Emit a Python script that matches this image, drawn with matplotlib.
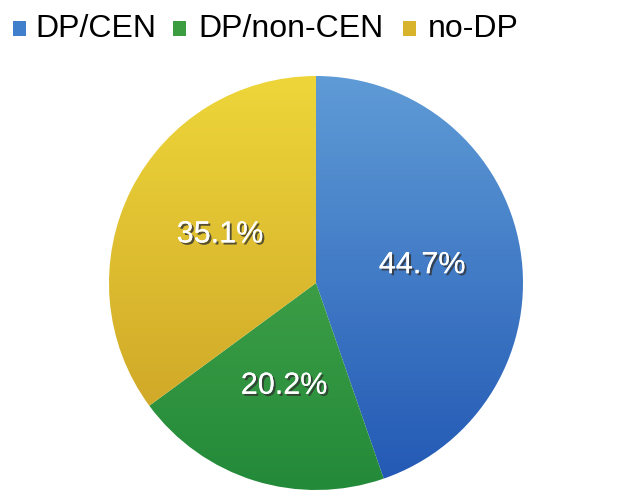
import numpy as np
import matplotlib
matplotlib.use("Agg")
import matplotlib.pyplot as plt
import matplotlib.patheffects as pe
from matplotlib.colors import LinearSegmentedColormap
from matplotlib.patches import Rectangle

# data
categories = ["DP/CEN", "DP/non-CEN", "no-DP"]
shares = [44.7, 20.2, 35.1]
# light (top of pie) and dark (bottom of pie) shade of each slice
light_colors = ["#5f9bd6", "#55b050", "#eed63a"]
dark_colors = ["#2258b4", "#238a3a", "#c99e24"]
legend_colors = ["#3f7fcc", "#3c9c40", "#d8b42c"]

plt.rcParams['font.family'] = ['Liberation Sans', 'DejaVu Sans']

fig = plt.figure(figsize=(6.4, 4.95), dpi=100)
fig.patch.set_facecolor("white")

# pie centre at (316, 283) px, radius about 207 px
W, H = 640, 495
cx, cy, r = 316, 283, 207
ax = fig.add_axes([(cx - r) / W, (H - cy - r) / H, 2 * r / W, 2 * r / H])

wedges, texts, autotexts = ax.pie(shares, startangle=90, counterclock=False,
                                  colors=legend_colors, radius=1.0,
                                  autopct="%1.1f%%", pctdistance=0.52,
                                  wedgeprops=dict(edgecolor="white", linewidth=0.6))
ax.set_xlim(-1.0, 1.0)
ax.set_ylim(-1.0, 1.0)
ax.set_aspect("equal")
ax.axis("off")

# vertical shading inside each slice
grad = np.linspace(0, 1, 256).reshape(-1, 1)
for w, c1, c2 in zip(wedges, light_colors, dark_colors):
    cmap = LinearSegmentedColormap.from_list("shade", [c1, c2])
    im = ax.imshow(grad, cmap=cmap, extent=(-1, 1, -1, 1), origin="upper",
                   aspect="auto", zorder=w.get_zorder() + 0.1)
    im.set_clip_path(w)
    w.set_facecolor("none")

shadow = [pe.withSimplePatchShadow(offset=(1.5, -1.5), shadow_rgbFace="#333333", alpha=0.8),
          pe.Normal()]
for t in autotexts:
    t.set_color("white")
    t.set_fontsize(22)
    t.set_zorder(5)
    t.set_path_effects(shadow)

# legend across the top
sq_x = [13, 173, 403]
txt_x = [35, 198, 428]
for col, name, sx, tx in zip(legend_colors, categories, sq_x, txt_x):
    fig.patches.append(Rectangle((sx / W, 1 - 36 / H), 13 / W, 15 / H,
                                 transform=fig.transFigure, facecolor=col,
                                 edgecolor="none"))
    fig.text(tx / W, 1 - 29 / H, name, fontsize=23, va="center", ha="left",
             color="black")

fig.savefig("out.png", dpi=100, facecolor="white")
